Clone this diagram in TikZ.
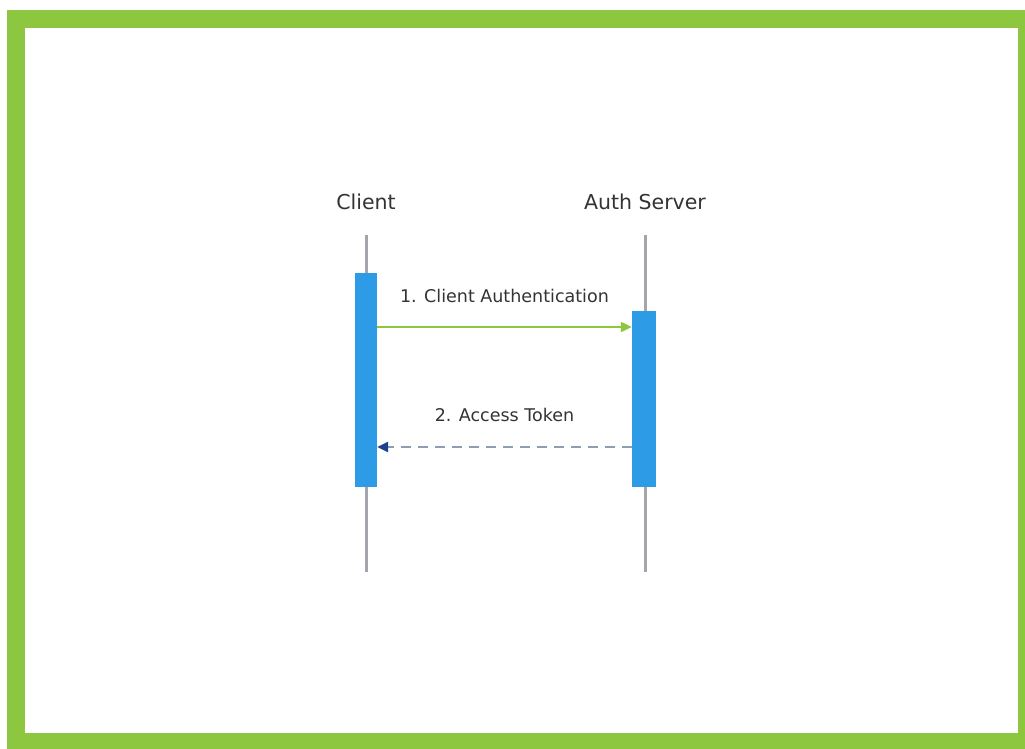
\documentclass[tikz,border=0pt]{standalone}
\usepackage{fontspec}
\setmainfont{DejaVu Sans}
\usetikzlibrary{positioning,arrows.meta}
\definecolor{framegreen}{HTML}{8DC63F}
\definecolor{barblue}{HTML}{2E9BE6}
\definecolor{lifegray}{HTML}{A4A4AC}
\definecolor{dashgray}{HTML}{8E9CB4}
\definecolor{tipblue}{HTML}{1F3F8F}
\begin{document}
\begin{tikzpicture}[x=1pt, y=-1pt,
                    title node/.style={font=\fontsize{20.5}{24}\selectfont, text=black!80},
                    msg node/.style={font=\fontsize{17.5}{21}\selectfont, text=black!80},
                    bar node/.style={fill=barblue, draw=none, inner sep=0pt, minimum width=22pt},
                    lifeline/.style={draw=lifegray, line width=3pt}]

  \useasboundingbox (0,0) rectangle (1025,749);
  \draw[framegreen, line width=18pt] (16,19) rectangle (1027,742);

  \node[title node] (client) at (366,202) {Client};
  \node[title node] (server) at (645,202) {Auth Server};

  \coordinate (c top) at (366,235);
  \coordinate (c bot) at (366,572);
  \coordinate (s top) at (645,235);
  \coordinate (s bot) at (645,572);
  \path[lifeline] (c top) -- (c bot);
  \path[lifeline] (s top) -- (s bot);

  \node[bar node, minimum height=214pt] (cbar) at (366,380) {};
  \node[bar node, minimum height=176pt, minimum width=24pt] (sbar) at (644,399) {};

  \draw[framegreen, line width=2.2pt, -{Triangle[length=11pt,width=10pt]}]
    (cbar.east |- 0,327) -- (sbar.west |- 0,327)
    node[msg node, midway, above=20pt] (m1) {1. Client Authentication};
  \draw[dashgray, line width=2.5pt, dash pattern=on 10pt off 7pt,
        -{Triangle[length=11pt,width=10pt,color=tipblue]}]
    (sbar.west |- 0,447) -- (cbar.east |- 0,447)
    node[msg node, midway, above=21pt] (m2) {2. Access Token};

\end{tikzpicture}
\end{document}
